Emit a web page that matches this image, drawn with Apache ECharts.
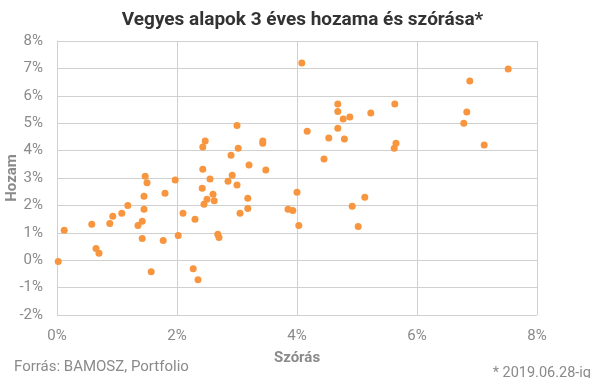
<!DOCTYPE html>
<html>
<head>
<meta charset="utf-8">
<script src="https://cdn.jsdelivr.net/npm/echarts@6/dist/echarts.min.js"></script>
<style>
  html, body { margin: 0; padding: 0; background: #fff; }
  #chart { width: 605px; height: 378px; }
</style>
</head>
<body>
<div id="chart"></div>
<script>
// szórás (%) és hozam (%) párok
const szoras = [4.08, 7.52, 6.88, 4.68, 4.68, 5.63, 5.23, 4.77, 4.88, 6.83, 6.78, 4.17, 4.68, 4.53, 4.79, 5.65, 5.62, 7.12, 4.45,
  3.0, 2.47, 2.43, 3.43, 3.43, 3.02, 2.9, 3.2, 2.43, 3.48, 1.47, 1.97, 2.92,
  1.5, 2.85, 2.55, 3.0, 2.42, 2.6, 2.5, 2.62, 2.45, 3.18, 3.18, 3.05, 2.1, 2.3, 2.68, 2.7, 2.02, 1.77,
  2.27, 2.35, 1.57, 1.45, 1.45, 1.8, 1.42, 1.35, 1.42, 1.18, 1.08, 0.93, 0.88, 0.58, 0.65, 0.7, 0.12, 0.02,
  4.0, 3.85, 3.93, 4.03, 4.92, 5.13, 5.02];
const hozam = [7.2, 6.98, 6.54, 5.7, 5.43, 5.7, 5.37, 5.15, 5.23, 5.41, 5.0, 4.71, 4.82, 4.46, 4.42, 4.27, 4.09, 4.2, 3.69,
  4.92, 4.35, 4.13, 4.35, 4.27, 4.09, 3.83, 3.47, 3.32, 3.29, 3.06, 2.93, 3.1,
  2.83, 2.88, 2.96, 2.74, 2.63, 2.41, 2.22, 2.17, 2.04, 2.26, 1.89, 1.71, 1.71, 1.49, 0.95, 0.83, 0.9, 0.72,
  -0.31, -0.71, -0.42, 2.33, 1.86, 2.44, 1.42, 1.27, 0.79, 2.0, 1.71, 1.6, 1.34, 1.31, 0.43, 0.25, 1.09, -0.05,
  2.48, 1.86, 1.81, 1.27, 1.97, 2.3, 1.23];

const chart = echarts.init(document.getElementById('chart'));
const gray = '#8a8a8a';
const lineColor = '#d0d0d0';

const option = {
  textStyle: { fontFamily: 'Roboto' },
  title: [
    {
      text: 'Vegyes alapok 3 éves hozama és szórása*',
      left: 'center', top: 6,
      textStyle: { fontSize: 19, fontWeight: 'bold', color: '#333' }
    },
    {
      text: 'Forrás: BAMOSZ, Portfolio',
      left: 9, top: 355,
      textStyle: { fontSize: 15, fontWeight: 'normal', color: gray }
    },
    {
      text: '* 2019.06.28-ig',
      right: 9, top: 361,
      textStyle: { fontSize: 14.5, fontWeight: 'normal', color: gray }
    }
  ],
  grid: { left: 57, right: 68, top: 41, bottom: 63, outerBoundsMode: 'none' },
  xAxis: {
    type: 'value', min: 0, max: 8, interval: 2,
    name: 'Szórás', nameLocation: 'middle', nameGap: 36, nameMoveOverlap: false,
    nameTextStyle: { fontSize: 15, fontWeight: 'bold', color: gray },
    axisLine: { show: true, lineStyle: { color: lineColor } },
    axisTick: { show: false },
    axisLabel: { formatter: '{value}%', color: gray, fontSize: 15, margin: 14 },
    splitLine: { lineStyle: { color: lineColor } }
  },
  yAxis: {
    type: 'value', min: -2, max: 8, interval: 1,
    name: 'Hozam', nameLocation: 'middle', nameGap: 37, nameRotate: 90, nameMoveOverlap: false,
    nameTextStyle: { fontSize: 15, fontWeight: 'bold', color: gray },
    axisLine: { show: true, lineStyle: { color: lineColor } },
    axisTick: { show: false },
    axisLabel: { formatter: '{value}%', color: gray, fontSize: 15, margin: 14 },
    splitLine: { lineStyle: { color: lineColor } }
  },
  series: [
    {
      type: 'scatter',
      symbolSize: 7,
      itemStyle: { color: '#F7963F', opacity: 1 },
      data: szoras.map((x, i) => [x, hozam[i]])
    }
  ]
};
chart.setOption(option);
</script>
</body>
</html>
